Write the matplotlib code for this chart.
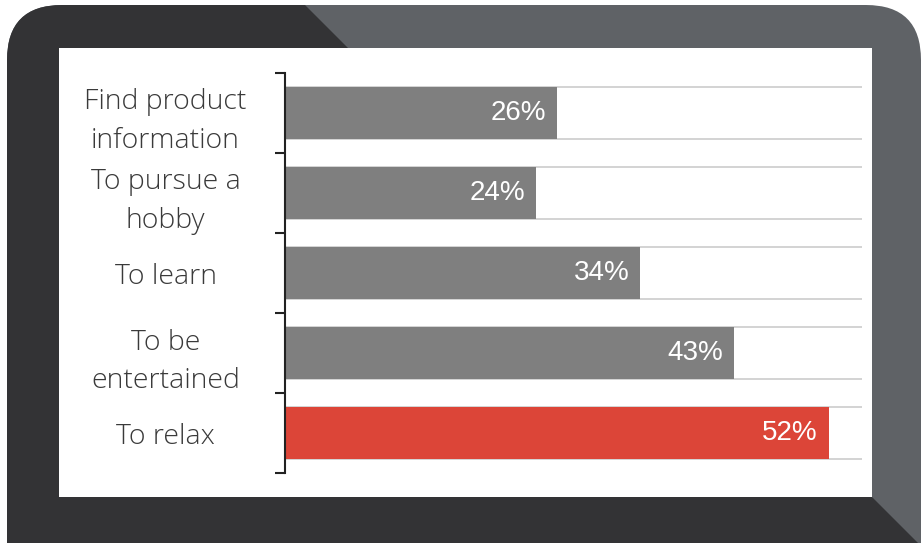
import numpy as np
import matplotlib
matplotlib.use('Agg')
import matplotlib.pyplot as plt
from matplotlib.patches import FancyBboxPatch, Polygon, Rectangle


reasons = ['Find product\ninformation', 'To pursue a\nhobby', 'To learn',
           'To be\nentertained', 'To relax']
shares = [26, 24, 34, 43, 52]
highlight = 'To relax'

GREY_BAR = '#7f7f7f'
RED_BAR = '#dc4538'
FRAME_DARK = '#333335'
FRAME_LIGHT = '#5f6266'
W, H = 922, 543


def draw_frame(fig):
    # laptop-style frame behind the chart, drawn in pixel units
    bg = fig.add_axes([0, 0, 1, 1], zorder=0)
    bg.set_xlim(0, W)
    bg.set_ylim(H, 0)
    bg.axis('off')

    body = FancyBboxPatch((7, 5), 914, 600, boxstyle='round,pad=0,rounding_size=55',
                          fc=FRAME_LIGHT, ec='none')
    bg.add_patch(body)
    shade = Polygon([(0, -10), (290, -10), (348, 48), (348, 497), (872, 497),
                     (930, 555), (0, 555)], closed=True, fc=FRAME_DARK, ec='none')
    bg.add_patch(shade)
    shade.set_clip_path(body)
    bg.add_patch(Rectangle((59, 48), 813, 449, fc='white', ec='none'))


def main():
    fig = plt.figure(figsize=(W / 100, H / 100), dpi=100)
    draw_frame(fig)

    ax = fig.add_axes([285 / W, (H - 473) / H, (862 - 285) / W, 400 / H], zorder=1)
    ax.patch.set_alpha(0)

    y = np.arange(len(reasons))
    colors = [RED_BAR if r == highlight else GREY_BAR for r in reasons]
    bh = 0.64
    ax.hlines(np.concatenate([y - bh / 2, y + bh / 2]), 0, 55.2, color='#cccccc',
              lw=1.2, zorder=1)
    bars = ax.barh(y, shares, height=bh, color=colors, zorder=2)

    for b, v in zip(bars, shares):
        ax.annotate('{}%'.format(v), (b.get_width(), b.get_y() + b.get_height() / 2),
                    xytext=(-8, 0), textcoords='offset points', ha='right', va='center',
                    color='white', fontsize=20, family='Liberation Sans', zorder=3)

    ax.set_xlim(0, 55.2)
    ax.set_ylim(len(reasons) - 0.5, -0.5)

    ax.set_yticks(y)
    ax.set_yticklabels(reasons, ha='center', multialignment='center',
                       family='Open Sans', fontweight='light', fontsize=20.5,
                       color='#3a3a3a', linespacing=1.5)
    ax.tick_params(axis='y', which='major', length=0, pad=86)
    ax.set_yticks(np.arange(len(reasons) + 1) - 0.5, minor=True)
    ax.tick_params(axis='y', which='minor', length=7, width=1.5, color='#222222')
    ax.set_xticks([])

    for s in ['top', 'right', 'bottom']:
        ax.spines[s].set_visible(False)
    ax.spines['left'].set_linewidth(1.5)
    ax.spines['left'].set_color('#222222')

    plt.savefig('out.png', dpi=100)


if __name__ == "__main__":
    main()
